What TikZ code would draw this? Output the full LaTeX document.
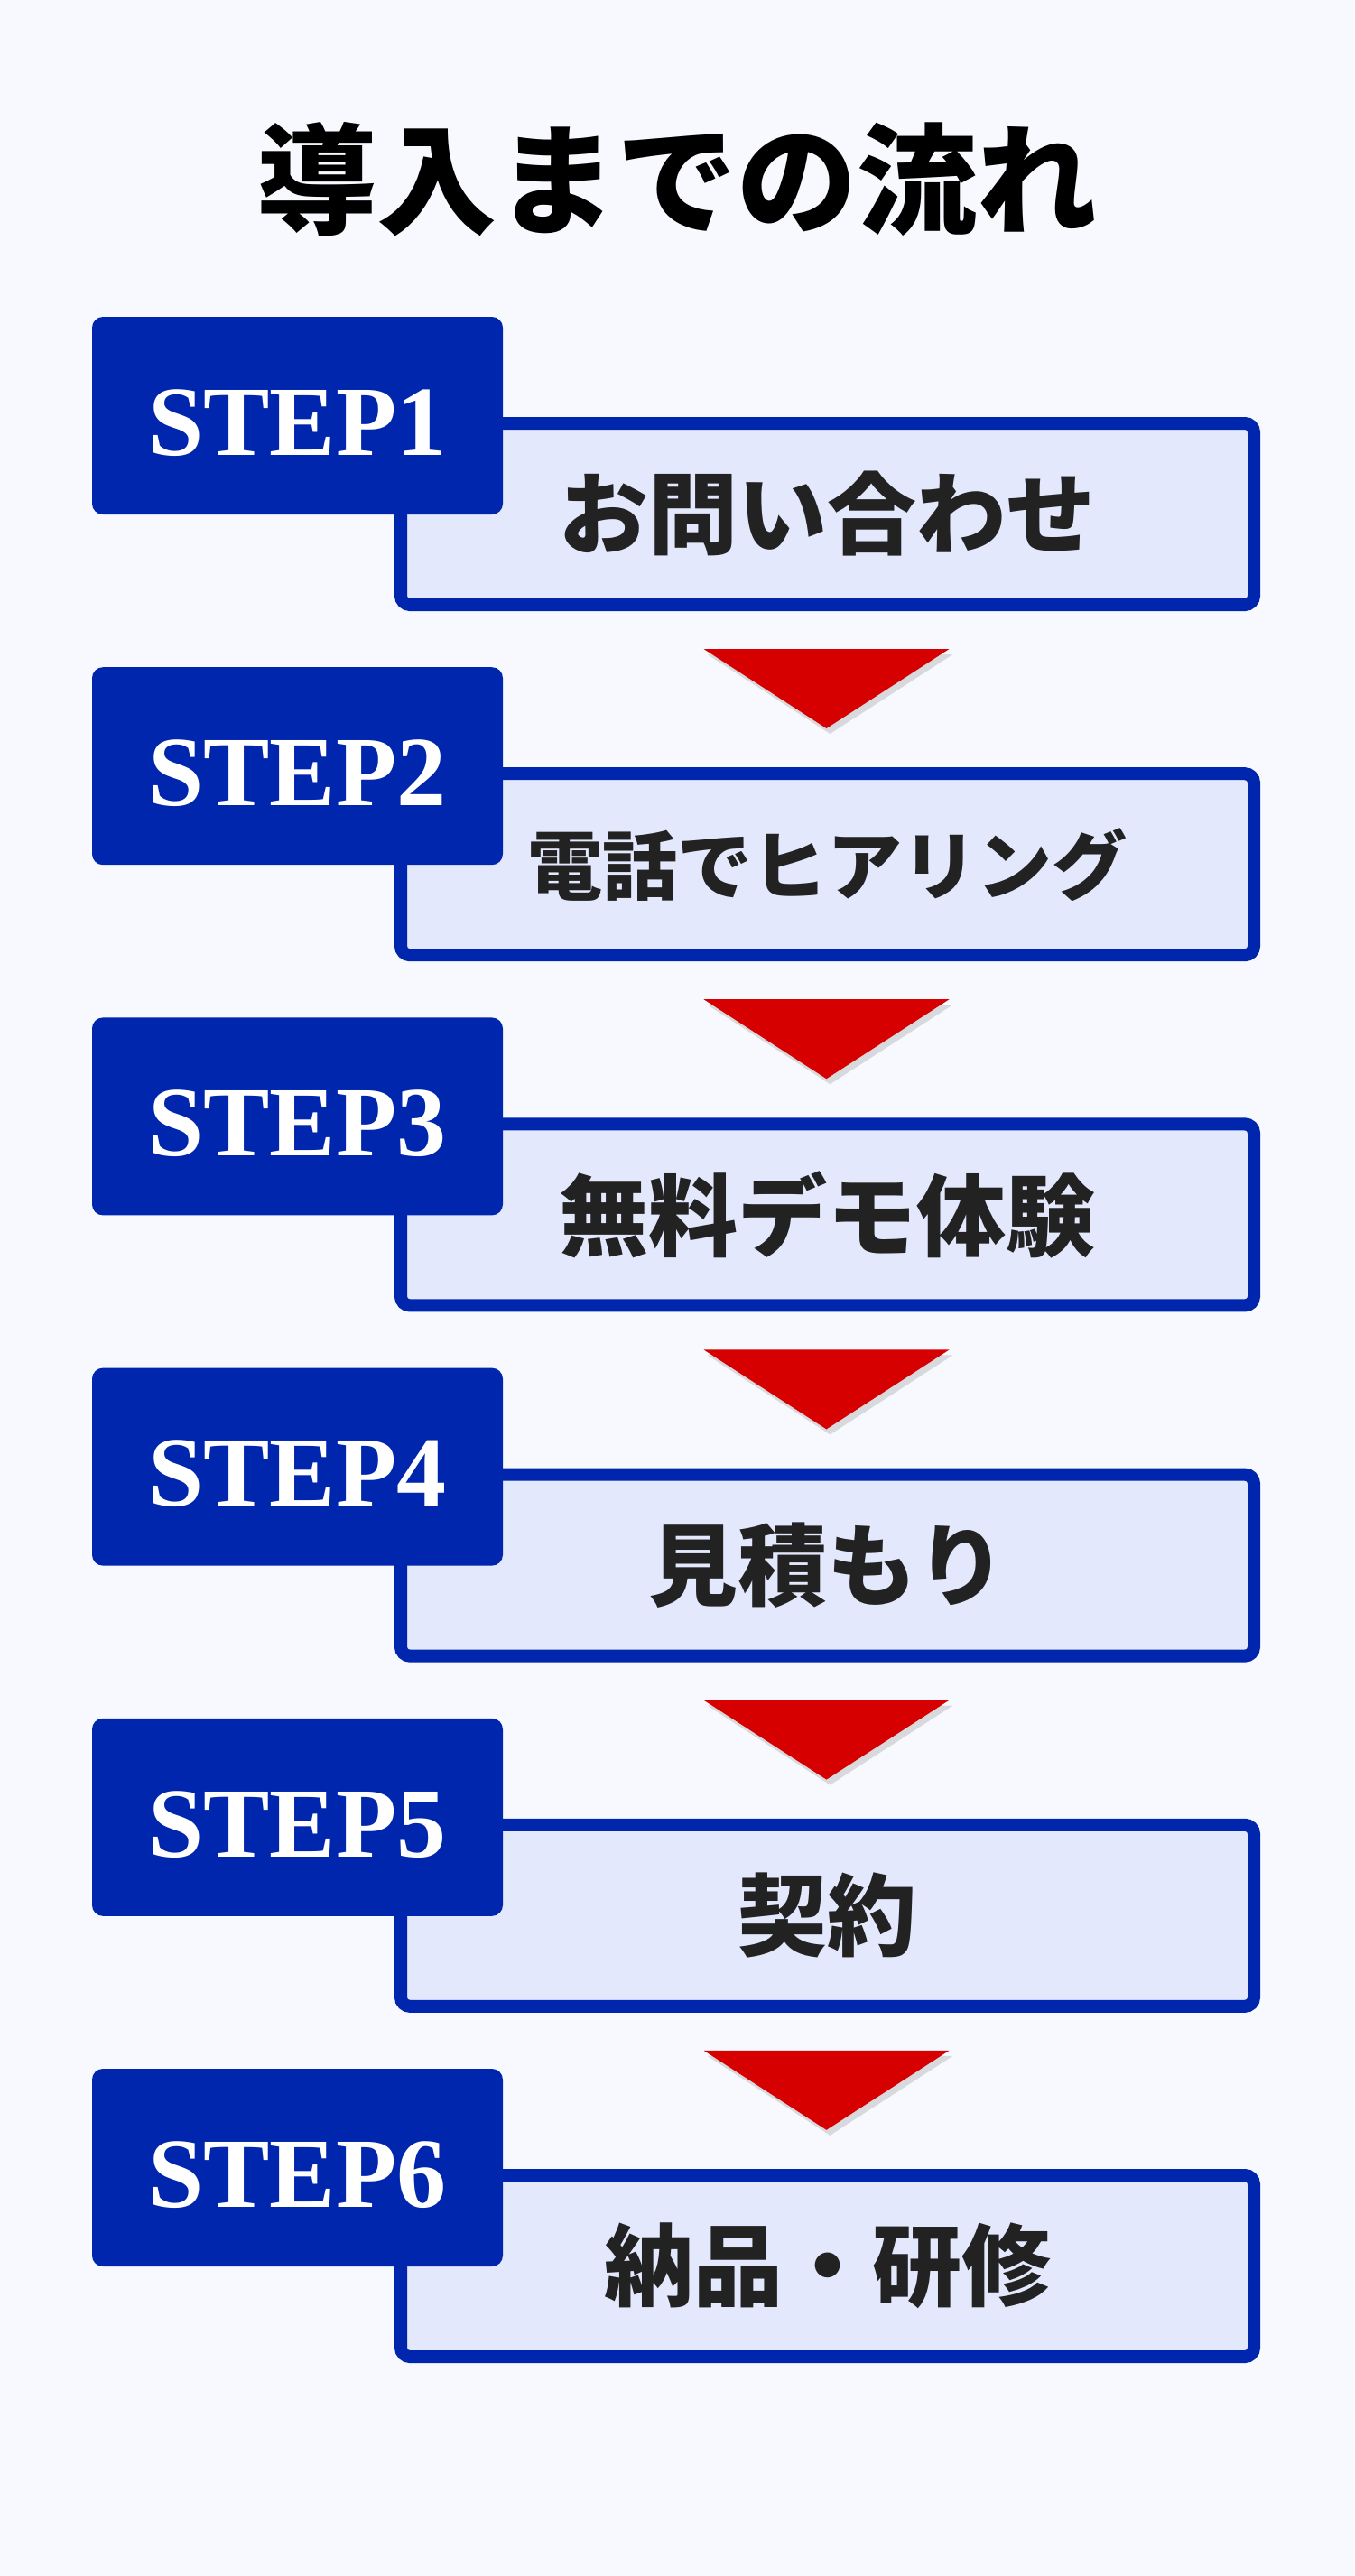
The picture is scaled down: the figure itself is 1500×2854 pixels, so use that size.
\documentclass[tikz,border=0pt]{standalone}
\usepackage{fontspec}
\setmainfont{Liberation Serif}
\newfontfamily\jp{Noto Sans CJK JP}
\usetikzlibrary{shadows,calc}
\definecolor{bg}{HTML}{F7F9FE}
\definecolor{navy}{HTML}{0026AD}
\definecolor{pale}{HTML}{E3E8FC}
\definecolor{redtri}{HTML}{D60000}
\definecolor{ink}{HTML}{222222}
\begin{document}
\begin{tikzpicture}[x=0.5pt,y=-0.5pt,
 contentbox/.style={draw=navy,line width=7pt,fill=pale,rounded corners=5pt,minimum width=472.5pt,minimum height=100.5pt,inner sep=0pt,text=ink},
 stepbox/.style={fill=navy,rounded corners=6pt,minimum width=227.5pt,minimum height=109.5pt,inner sep=0pt,text=white,font=\bfseries\fontsize{55pt}{60pt}\selectfont},
 tri/.style={fill=redtri,drop shadow={shadow xshift=2pt,shadow yshift=-3pt,opacity=0.18,fill=black!70}}
]
\fill[bg] (0,0) rectangle (1500,2854);
\useasboundingbox (0,0) rectangle (1500,2854);
\node[text=black,font=\jp\bfseries\fontsize{66.5pt}{70pt}\selectfont] (title) at (750,199) {導入までの流れ};
\foreach \k/\txt/\fs in {1/お問い合わせ/49.5, 2/電話でヒアリング/41.5, 3/無料デモ体験/49.5, 4/見積もり/49.5, 5/契約/49.5, 6/納品・研修/49.5}{
  \pgfmathsetmacro\cy{569.5+(\k-1)*388.2}
  \node[contentbox,font=\jp\bfseries\fontsize{\fs pt}{\fs pt}\selectfont] (c\k) at (916.5,\cy) {\txt};
}
\foreach \k in {1,...,6}{
  \pgfmathsetmacro\sy{460.5+(\k-1)*388.2}
  \node[stepbox] (s\k) at (329.5,\sy) {\raisebox{-4pt}[\height][\depth]{STEP\k}};
}
\foreach \k in {1,...,5}{
  \fill[tri] ($(c\k.south)+(-137,42)$) -- ($(c\k.south)+(135,42)$) -- ($(c\k.south)+(-1,130)$) -- cycle;
}
\end{tikzpicture}
\end{document}
